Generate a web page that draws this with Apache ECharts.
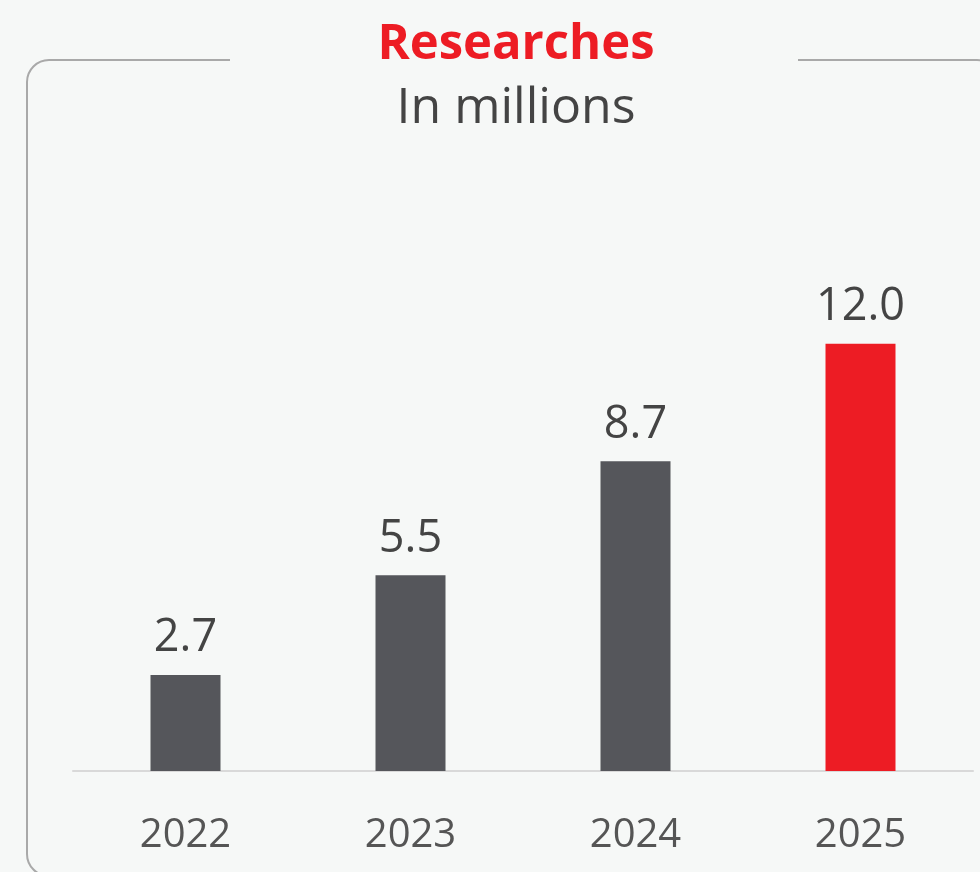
<!DOCTYPE html>
<html>
<head>
<meta charset="utf-8">
<script src="https://cdn.jsdelivr.net/npm/echarts@6/dist/echarts.min.js"></script>
<style>
html,body{margin:0;padding:0;background:#f6f8f7;}
#chart{width:980px;height:872px;}
</style>
</head>
<body>
<div id="chart"></div>
<script>
const categories = ['2022', '2023', '2024', '2025'];
const values = [2.7, 5.5, 8.7, 12.0];
const highlight = [false, false, false, true];
const titleText = 'Researches';
const subtitleText = 'In millions';

const FONT = '"Open Sans", "Noto Sans", sans-serif';
const BG = '#f6f8f7';
const chart = echarts.init(document.getElementById('chart'));
chart.setOption({
  backgroundColor: BG,
  animation: false,
  title: {
    text: titleText,
    subtext: subtitleText,
    left: 511,
    textAlign: 'center',
    top: 16,
    itemGap: 14,
    z: 10,
    textStyle: { color: '#ed1c24', fontSize: 49, fontWeight: 'bold', fontFamily: FONT },
    subtextStyle: { color: '#444444', fontSize: 50, fontWeight: 'normal', fontFamily: FONT }
  },
  graphic: [{
    type: 'rect',
    shape: { x: 27, y: 60, width: 972, height: 816, r: 22 },
    style: { fill: 'transparent', stroke: '#a9a9a9', lineWidth: 2 },
    z: 1
  }, {
    type: 'rect',
    shape: { x: 230, y: 54, width: 568, height: 12 },
    style: { fill: BG, stroke: null },
    z: 2
  }],
  grid: { left: 73, right: 7, top: 237, bottom: 101 },
  xAxis: {
    type: 'category',
    data: categories,
    axisLine: { lineStyle: { color: '#d9d9d9', width: 2 } },
    axisTick: { show: false },
    axisLabel: { color: '#555555', fontSize: 40, fontFamily: FONT, margin: 45 }
  },
  yAxis: { type: 'value', min: 0, max: 15, show: false, splitLine: { show: false } },
  series: [{
    type: 'bar',
    barWidth: 70,
    z: 5,
    data: values.map((v, i) => ({
      value: v,
      itemStyle: { color: highlight[i] ? '#ed1c24' : '#55565b' }
    })),
    label: {
      show: true,
      position: 'top',
      distance: 14,
      color: '#444444',
      fontSize: 45,
      fontFamily: FONT,
      formatter: p => p.value.toFixed(1)
    }
  }]
});
</script>
</body>
</html>
